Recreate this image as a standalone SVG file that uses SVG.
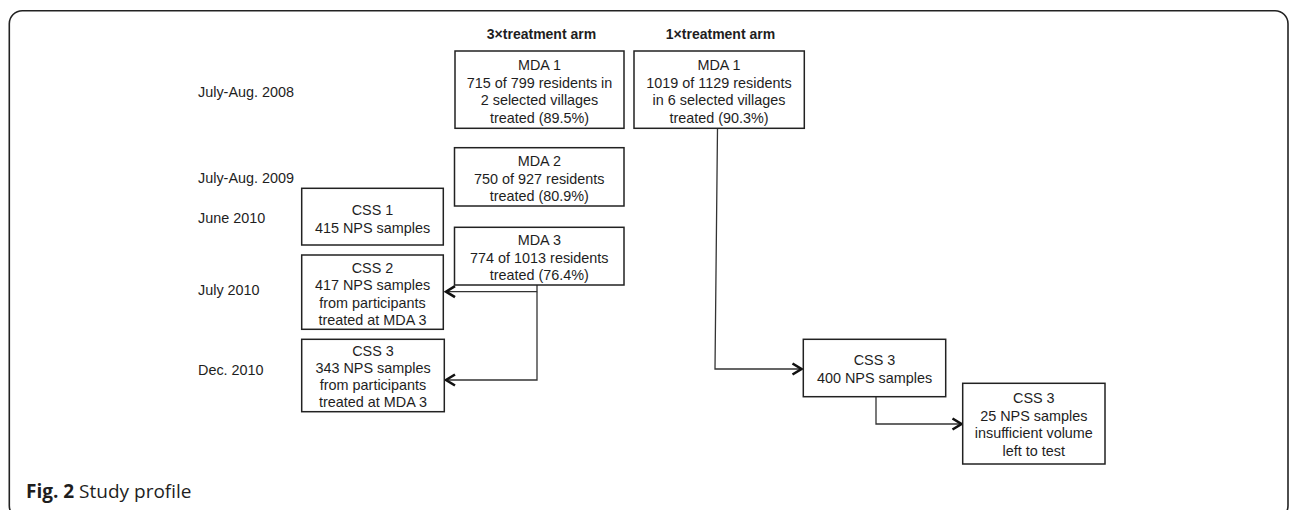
<svg xmlns="http://www.w3.org/2000/svg" width="1290" height="510" viewBox="0 0 1290 510">
<style>
.t{font-family:"Liberation Sans",Arial,sans-serif;font-size:14.4px;fill:#1e1e1e;text-anchor:middle}
.l{font-family:"Liberation Sans",Arial,sans-serif;font-size:14.4px;fill:#1e1e1e}
.h{font-family:"Liberation Sans",Arial,sans-serif;font-size:14px;font-weight:bold;fill:#1e1e1e;text-anchor:middle}
.b{fill:#fff;stroke:#222;stroke-width:1.5}
.c{fill:none;stroke:#333;stroke-width:1.3}
</style>
<defs>
<marker id="ah" markerUnits="userSpaceOnUse" viewBox="-12 -8 14 16" refX="0" refY="0" markerWidth="14" markerHeight="16" orient="auto">
<path d="M-9,-5.5 L0,0 L-9,5.5" fill="none" stroke="#111" stroke-width="2.6"/>
</marker>
</defs>
<rect x="0" y="0" width="1290" height="510" fill="#fff"/>
<rect x="9.3" y="10.7" width="1278.7" height="508" rx="13" ry="13" fill="none" stroke="#222" stroke-width="1.6"/>

<g id="headers">
<text class="h" x="541.5" y="38.5">3×treatment arm</text>
<text class="h" x="720.5" y="38.5">1×treatment arm</text>
</g>

<g id="timeline">
<text class="l" x="198" y="97">July-Aug. 2008</text>
<text class="l" x="198" y="183">July-Aug. 2009</text>
<text class="l" x="198" y="223">June 2010</text>
<text class="l" x="198" y="295">July 2010</text>
<text class="l" x="198" y="375">Dec. 2010</text>
</g>

<g id="connectors">
<path class="c" d="M537,285 V291.7 H446" marker-end="url(#ah)"/>
<path class="c" d="M537,291.7 V380 H446" marker-end="url(#ah)"/>
<path class="c" d="M717.5,128.3 L715,369 H801.5" marker-end="url(#ah)"/>
<path class="c" d="M876,396.7 V424 H961.5" marker-end="url(#ah)"/>
</g>

<g id="mda1_3x">
<rect class="b" x="455" y="51" width="169" height="77.3"/>
<text class="t" x="539.5" y="70">MDA 1</text>
<text class="t" x="539.5" y="87.5">715 of 799 residents in</text>
<text class="t" x="539.5" y="105">2 selected villages</text>
<text class="t" x="539.5" y="122.5">treated (89.5%)</text>
</g>

<g id="mda1_1x">
<rect class="b" x="634" y="51" width="170.3" height="77.3"/>
<text class="t" x="719" y="70">MDA 1</text>
<text class="t" x="719" y="87.5">1019 of 1129 residents</text>
<text class="t" x="719" y="105">in 6 selected villages</text>
<text class="t" x="719" y="122.5">treated (90.3%)</text>
</g>

<g id="mda2">
<rect class="b" x="454.5" y="147.7" width="169.5" height="58.3"/>
<text class="t" x="539.3" y="166">MDA 2</text>
<text class="t" x="539.3" y="183.5">750 of 927 residents</text>
<text class="t" x="539.3" y="201">treated (80.9%)</text>
</g>

<g id="css1">
<rect class="b" x="301.7" y="188.3" width="141.6" height="56.7"/>
<text class="t" x="372.5" y="215">CSS 1</text>
<text class="t" x="372.5" y="232.5">415 NPS samples</text>
</g>

<g id="mda3">
<rect class="b" x="454.5" y="227.3" width="169.5" height="57.7"/>
<text class="t" x="539.3" y="245">MDA 3</text>
<text class="t" x="539.3" y="262.5">774 of 1013 residents</text>
<text class="t" x="539.3" y="280">treated (76.4%)</text>
</g>

<g id="css2">
<rect class="b" x="301.7" y="255" width="141.6" height="74.3"/>
<text class="t" x="372.5" y="273.3">CSS 2</text>
<text class="t" x="372.5" y="290">417 NPS samples</text>
<text class="t" x="372.5" y="307.5">from participants</text>
<text class="t" x="372.5" y="325">treated at MDA 3</text>
</g>

<g id="css3_3x">
<rect class="b" x="301.7" y="339.3" width="142.6" height="72.4"/>
<text class="t" x="373" y="355.7">CSS 3</text>
<text class="t" x="373" y="372.7">343 NPS samples</text>
<text class="t" x="373" y="390">from participants</text>
<text class="t" x="373" y="406.7">treated at MDA 3</text>
</g>

<g id="css3_1x">
<rect class="b" x="803.3" y="339.3" width="142.4" height="57.4"/>
<text class="t" x="874.5" y="365">CSS 3</text>
<text class="t" x="874.5" y="383.3">400 NPS samples</text>
</g>

<g id="css3_insufficient">
<rect class="b" x="962.7" y="383.3" width="142.3" height="80.7"/>
<text class="t" x="1033.8" y="403.3">CSS 3</text>
<text class="t" x="1033.8" y="421">25 NPS samples</text>
<text class="t" x="1033.8" y="438.3">insufficient volume</text>
<text class="t" x="1033.8" y="456">left to test</text>
</g>

<g id="caption">
<text x="26" y="498" font-family="'Open Sans','Noto Sans',sans-serif" font-size="19" fill="#1e1e1e"><tspan font-weight="bold">Fig. 2</tspan> Study profile</text>
</g>
</svg>
